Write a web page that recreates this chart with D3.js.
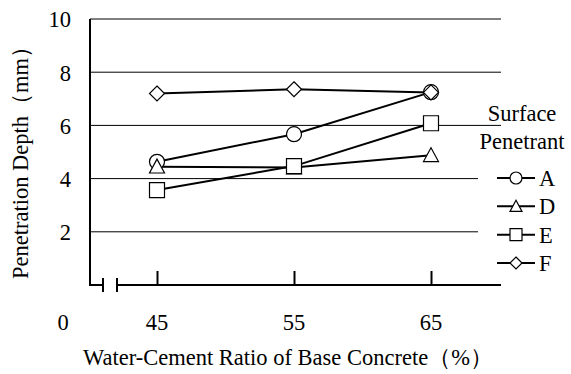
<!DOCTYPE html>
<html>
<head>
<meta charset="utf-8">
<script src="https://cdn.jsdelivr.net/npm/d3@7"></script>
<style>
	body { margin: 0; background: #fff; }
</style>
</head>
<body>
<div id="chart"></div>
<script>
// Water-cement ratios (x) and penetration depth (mm) for each penetrant
const ratios = [45, 55, 65];
const seriesNames = ["A", "D", "E", "F"];
const depthA = [4.63, 5.67, 7.25];
const depthD = [4.45, 4.42, 4.88];
const depthE = [3.57, 4.47, 6.08];
const depthF = [7.2, 7.36, 7.24];
const yTicks = [2, 4, 6, 8, 10];
const xTickLabels = ["45", "55", "65"];

const series = [
	{ name: "A", values: depthA, shape: "circle" },
	{ name: "D", values: depthD, shape: "triangle" },
	{ name: "E", values: depthE, shape: "square" },
	{ name: "F", values: depthF, shape: "diamond" },
];

const width = 571, height = 374;
const plotLeft = 90, legendLeft = 478, axisEnd = 501, plotTop = 19, plotBottom = 285;
const fontSize = 22.5;
const font = '"Liberation Serif", "Times New Roman", Tinos, serif';

const svg = d3.select("#chart").append("svg")
	.attr("width", width).attr("height", height)
	.style("font-family", font);

const x = d3.scaleLinear().domain([45, 65]).range([157, 431]);
const y = d3.scaleLinear().domain([0, 10]).range([plotBottom, plotTop]);

// marker path for each shape, s = half width
function markerPath(shape, s) {
	const p = d3.path();
	if (shape === "circle") {
		p.arc(0, 0, s, 0, 2 * Math.PI);
	} else if (shape === "square") {
		p.rect(-s, -s, 2 * s, 2 * s);
	} else if (shape === "diamond") {
		p.moveTo(0, -s); p.lineTo(s, 0); p.lineTo(0, s); p.lineTo(-s, 0); p.closePath();
	} else {
		p.moveTo(0, -s); p.lineTo(s, s * 0.85); p.lineTo(-s, s * 0.85); p.closePath();
	}
	return p.toString();
}

function label(sel) {
	return sel.style("font-family", font).style("font-size", fontSize + "px").attr("fill", "#000");
}

// gridlines (the lower ones stop short to leave room for the legend)
svg.append("g").selectAll("line")
	.data(yTicks)
	.join("line")
	.attr("x1", plotLeft).attr("x2", d => (d >= 6 ? axisEnd : legendLeft))
	.attr("y1", d => y(d)).attr("y2", d => y(d))
	.attr("stroke", "#000").attr("stroke-width", 1);

// y axis
const yAxis = svg.append("g").attr("transform", `translate(${plotLeft},0)`)
	.call(d3.axisLeft(y).tickValues(yTicks).tickSize(0).tickPadding(19));
yAxis.attr("font-family", null).attr("font-size", null);
yAxis.select(".domain").remove();
yAxis.selectAll("text").attr("dy", "0.35em").call(label);
svg.append("line")
	.attr("x1", plotLeft).attr("x2", plotLeft).attr("y1", plotTop).attr("y2", plotBottom)
	.attr("stroke", "#000").attr("stroke-width", 2);

// x axis with break marks
const breakA = 103, breakB = 117;
svg.append("path")
	.attr("d", `M${plotLeft - 1},${plotBottom}H${breakA}M${breakB},${plotBottom}H${axisEnd}`)
	.attr("stroke", "#000").attr("stroke-width", 2).attr("fill", "none");
svg.append("g").selectAll("line")
	.data([breakA, breakB])
	.join("line")
	.attr("x1", d => d).attr("x2", d => d)
	.attr("y1", plotBottom - 7).attr("y2", plotBottom + 7)
	.attr("stroke", "#000").attr("stroke-width", 2);

const xAxis = svg.append("g").attr("transform", `translate(0,${plotBottom})`)
	.call(d3.axisTop(x).tickValues(ratios).tickSize(14).tickFormat(""));
xAxis.select(".domain").remove();
xAxis.selectAll("line").attr("stroke-width", 2);
svg.append("g").selectAll("text")
	.data(ratios)
	.join("text")
	.attr("x", d => x(d)).attr("y", 322)
	.attr("text-anchor", "middle").attr("dy", "0.35em")
	.call(label)
	.text((d, i) => xTickLabels[i]);
svg.append("text")
	.attr("x", 63).attr("y", 322).attr("text-anchor", "middle").attr("dy", "0.35em")
	.call(label).text("0");

// lines + markers
const line = d3.line().x((d, i) => x(ratios[i])).y(d => y(d));
svg.append("g").selectAll("path")
	.data(series)
	.join("path")
	.attr("d", d => line(d.values))
	.attr("fill", "none").attr("stroke", "#000").attr("stroke-width", 2);

series.forEach(s => {
	svg.append("g").selectAll("path")
		.data(s.values)
		.join("path")
		.attr("transform", (d, i) => `translate(${x(ratios[i])},${y(d)})`)
		.attr("d", markerPath(s.shape, 7.5))
		.attr("fill", "#fff").attr("stroke", "#000").attr("stroke-width", 1.2);
});

// legend
svg.append("text").attr("x", 522).attr("y", 113).attr("text-anchor", "middle")
	.attr("dy", "0.35em").call(label).text("Surface");
svg.append("text").attr("x", 522).attr("y", 141).attr("text-anchor", "middle")
	.attr("dy", "0.35em").call(label).text("Penetrant");
const legendY = d3.scalePoint().domain(seriesNames).range([178, 263]);
const leg = svg.append("g").selectAll("g")
	.data(series)
	.join("g")
	.attr("transform", d => `translate(516,${legendY(d.name)})`);
leg.append("line").attr("x1", -19).attr("x2", 19)
	.attr("stroke", "#000").attr("stroke-width", 2);
leg.append("path").attr("d", d => markerPath(d.shape, 6))
	.attr("fill", "#fff").attr("stroke", "#000").attr("stroke-width", 1.2);
leg.append("text").attr("x", 23).attr("dy", "0.35em")
	.call(label).text(d => d.name);

// axis titles
svg.append("text")
	.attr("transform", "translate(20,157) rotate(-90)")
	.attr("text-anchor", "middle").attr("dy", "0.35em")
	.call(label).text("Penetration Depth（mm）");
svg.append("text")
	.attr("x", 288).attr("y", 357).attr("text-anchor", "middle").attr("dy", "0.35em")
	.call(label).text("Water-Cement Ratio of Base Concrete（%）");
</script>
</body>
</html>
